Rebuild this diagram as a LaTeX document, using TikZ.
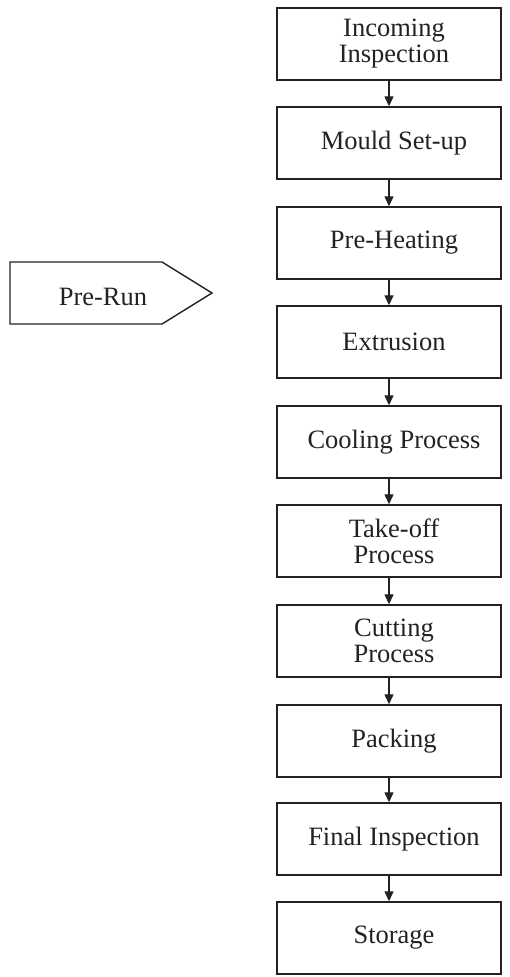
\documentclass[tikz,border=0pt]{standalone}
\usepackage{fontspec}
\setmainfont{Liberation Serif}
\usetikzlibrary{arrows.meta}
\definecolor{ink}{HTML}{222222}
% each label line sits a little right of the box centre
\newcommand{\ind}{\hspace*{10pt}}
\begin{document}
\begin{tikzpicture}[x=1pt,y=-1pt,
  stepbox/.style={draw=ink, line width=1.4pt, minimum width=224pt, minimum height=72pt,
    inner sep=0pt, align=center, text=ink, font=\fontsize{26.5}{26}\selectfont},
  flow/.style={draw=ink, line width=1.3pt, -{Triangle[length=10pt,width=9pt]}},
  lbl/.style={text=ink, font=\fontsize{26.5}{26}\selectfont}]
\useasboundingbox (0,0) rectangle (510,977);

% process steps
\node[stepbox] (s1)  at (389,44)  {\ind Incoming\\\ind Inspection};
\node[stepbox] (s2)  at (389,143) {\ind Mould Set-up};
\node[stepbox] (s3)  at (389,243) {\ind Pre-Heating};
\node[stepbox] (s4)  at (389,342) {\ind Extrusion};
\node[stepbox] (s5)  at (389,442) {\ind Cooling Process};
\node[stepbox] (s6)  at (389,541) {\ind Take-off\\\ind Process};
\node[stepbox] (s7)  at (389,641) {\ind Cutting\\\ind Process};
\node[stepbox] (s8)  at (389,741) {\ind Packing};
\node[stepbox] (s9)  at (389,839) {\ind Final Inspection};
\node[stepbox] (s10) at (389,938) {\ind Storage};

\foreach \a/\b in {s1/s2,s2/s3,s3/s4,s4/s5,s5/s6,s6/s7,s7/s8,s8/s9,s9/s10}
  \draw[flow] (\a.south) -- (\b.north);

% pre-run pointer
\draw[ink, line width=1.4pt, line join=miter]
  (10,262) -- (162,262) -- (212,293) -- (162,324) -- (10,324) -- cycle;
\node[lbl] (prerun) at (103,297) {Pre-Run};
\end{tikzpicture}
\end{document}
